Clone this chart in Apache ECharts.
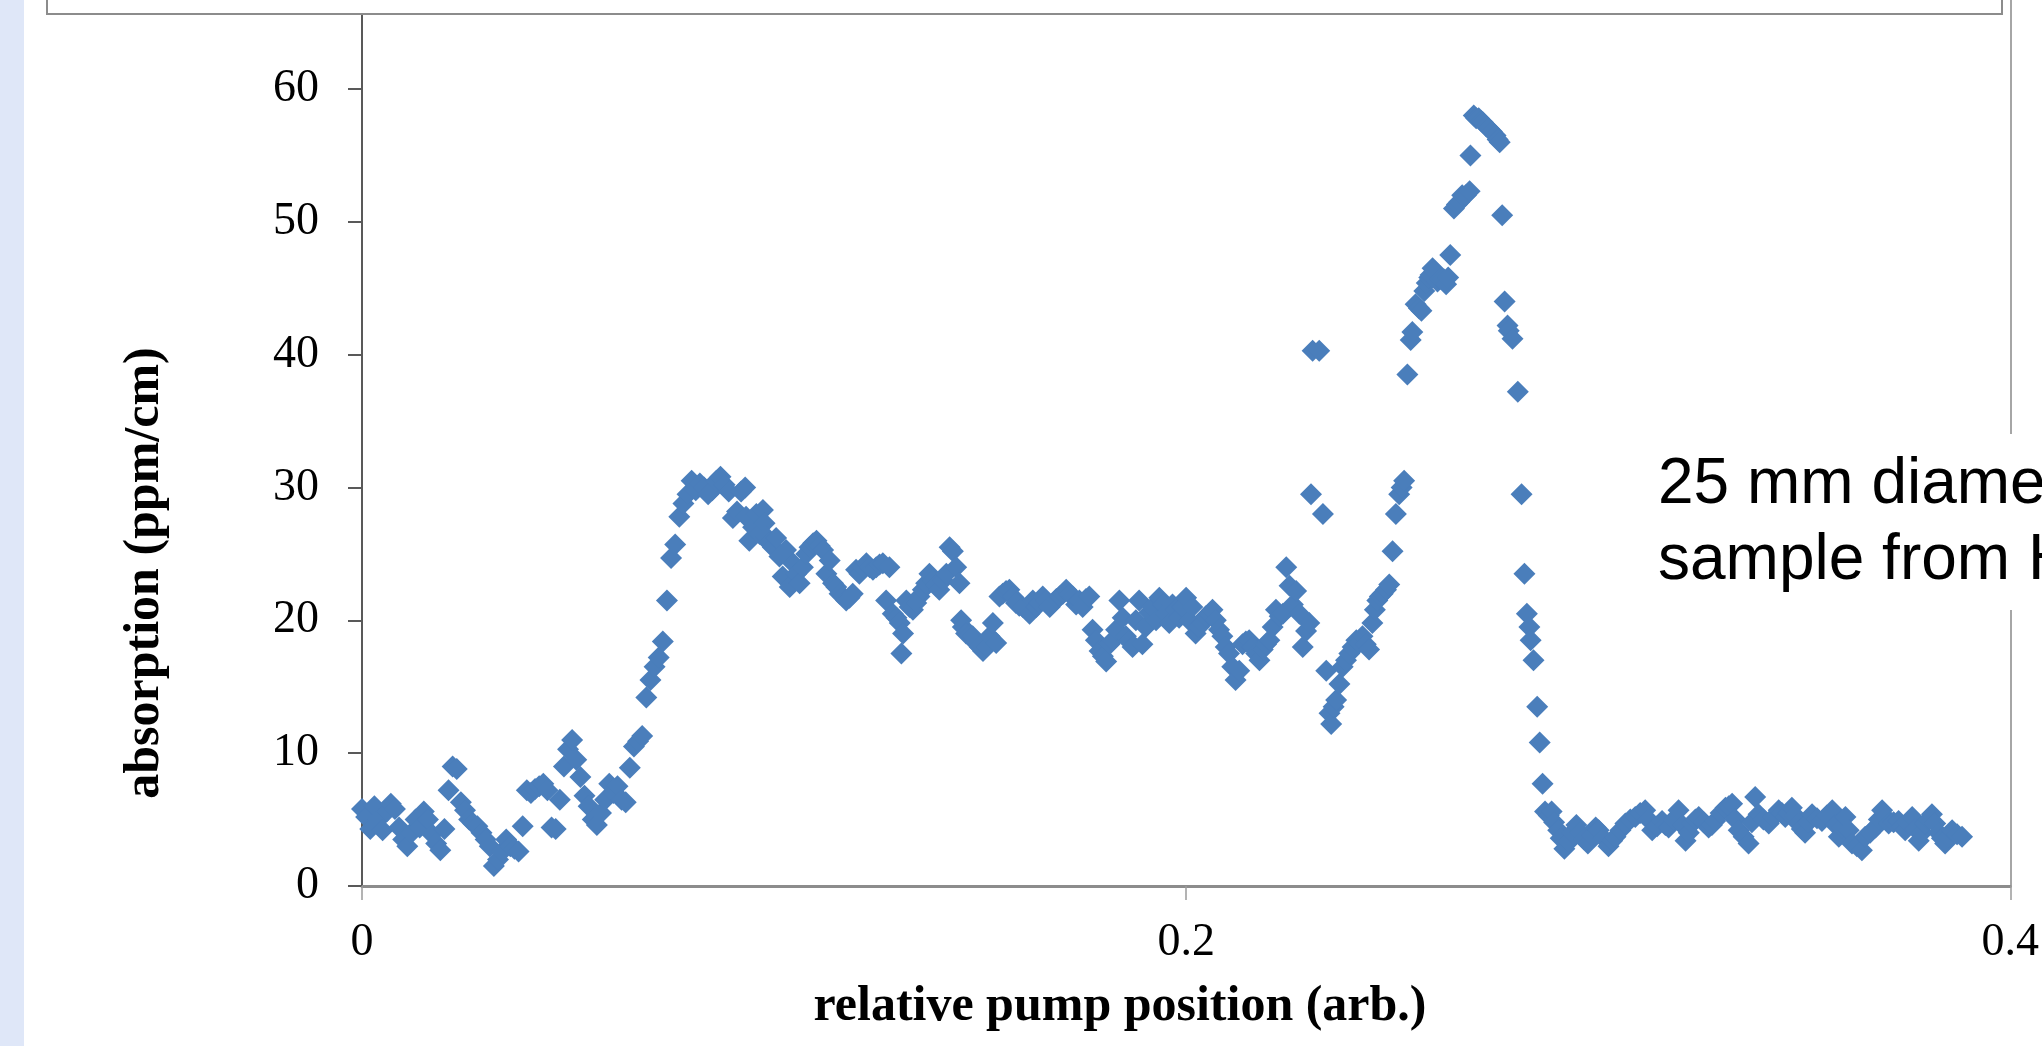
<!DOCTYPE html>
<html><head><meta charset="utf-8">
<script src="https://cdn.jsdelivr.net/npm/echarts@6/dist/echarts.min.js"></script>
<style>html,body{margin:0;padding:0;background:#fff;overflow:hidden}#chart{width:2042px;height:1046px}</style>
</head><body><div id="chart"></div>
<script>
// x-axis ticks and y-axis range
const xTickLabels = ['0', '0.2', '0.4'];
const yTickLabels = ['0', '10', '20', '30', '40', '50', '60'];

// baseline before the rise (0 - 0.073)
const posStart = [
  0.000,0.001,0.002,0.003,0.004,0.005,0.006,0.007,0.008,0.009,
  0.010,0.011,0.012,0.013,0.014,0.015,0.016,0.017,0.018,0.019,
  0.020,0.021,0.022,0.023,0.024,0.025,0.026,0.027,0.028,0.029,
  0.030,0.031,0.032,0.033,0.034,0.035,0.036,0.037,0.038,0.039,
  0.040,0.041,0.042,0.043,0.044,0.045,0.046,0.047,0.048,0.049,
  0.050,0.051,0.052,0.053,0.054,0.055,0.056,0.057,0.058,0.059,
  0.060,0.061,0.062,0.063,0.064,0.065,0.066,0.067,0.068,0.069,
  0.070,0.071,0.072,0.073];
const absStart = [
  5.8,5.2,4.3,6.0,5.0,4.2,5.6,6.2,5.8,4.4,
  3.5,3.0,4.0,5.0,4.4,5.6,5.0,3.9,3.2,2.7,
  4.3,7.2,9.0,8.8,6.3,5.7,5.0,4.7,4.5,4.0,
  3.5,3.0,1.5,2.0,2.6,3.5,3.0,2.8,2.6,4.5,
  7.2,7.0,7.3,7.5,7.7,7.2,4.4,4.3,6.5,9.0,
  10.3,11.0,9.5,8.2,6.8,6.0,5.0,4.6,5.5,6.5,
  7.7,7.0,7.5,6.5,6.3,8.9,10.5,10.9,11.3,14.2,
  15.5,16.5,17.2,18.4];

// first plateau top (0.074 - 0.093)
const posPlateau = [
  0.074,0.075,0.076,0.077,0.078,0.079,0.080,0.081,0.082,0.083,
  0.084,0.085,0.086,0.087,0.088,0.089,0.090,0.091,0.092,0.093];
const absPlateau = [
  21.5,24.7,25.7,27.8,28.8,29.5,30.5,29.8,30.3,30.0,
  29.5,29.8,30.5,30.8,30.2,29.7,27.7,28.2,29.7,30.0];

// slow decay (0.093 - 0.187)
const posDecay = [
  0.0932,0.0940,0.0949,0.0957,0.0965,0.0973,0.0977,0.0981,0.0989,0.0997,
  0.1005,0.1013,0.1021,0.1029,0.1038,0.1046,0.1054,0.1062,0.1070,0.1078,
  0.1086,0.1095,0.1103,0.1111,0.1119,0.1127,0.1135,0.1143,0.1151,0.1159,
  0.1167,0.1175,0.1183,0.1191,0.1199,0.1207,0.1216,0.1224,0.1232,0.1240,
  0.1248,0.1256,0.1264,0.1272,0.1280,0.1288,0.1297,0.1305,0.1309,0.1313,
  0.1321,0.1329,0.1337,0.1345,0.1353,0.1361,0.1369,0.1377,0.1385,0.1393,
  0.1401,0.1410,0.1418,0.1426,0.1434,0.1442,0.1450,0.1454,0.1458,0.1466,
  0.1474,0.1482,0.1490,0.1499,0.1507,0.1515,0.1523,0.1531,0.1539,0.1547,
  0.1555,0.1563,0.1571,0.1579,0.1587,0.1595,0.1604,0.1612,0.1620,0.1628,
  0.1636,0.1644,0.1652,0.1660,0.1669,0.1677,0.1685,0.1693,0.1701,0.1709,
  0.1717,0.1725,0.1733,0.1741,0.1749,0.1757,0.1765,0.1773,0.1781,0.1790,
  0.1798,0.1806,0.1814,0.1822,0.1830,0.1838,0.1846,0.1854,0.1862,0.1870];
const absDecay = [
  27.8,26.0,27.0,28.0,26.5,28.3,27.3,26.3,25.8,25.5,
  26.2,24.8,23.3,25.3,22.5,24.3,23.5,22.8,24.0,25.0,
  25.5,25.8,26.0,25.6,25.3,23.5,24.5,22.8,22.5,22.0,
  21.8,21.5,21.7,22.0,23.8,23.5,24.0,24.3,24.0,23.8,
  24.0,24.2,24.3,21.5,24.0,20.5,20.2,19.8,17.5,19.0,
  21.5,21.0,20.8,21.3,21.8,22.3,22.8,23.5,23.0,22.6,
  22.3,23.0,23.5,25.5,25.2,24.0,22.8,20.0,19.5,19.0,
  18.9,18.8,18.3,18.0,17.7,18.0,18.8,19.8,18.3,21.8,
  22.0,22.2,22.3,21.8,21.3,21.1,21.0,20.8,20.5,21.5,
  21.0,21.3,21.8,21.5,21.0,21.3,21.6,21.8,22.0,22.3,
  22.0,21.8,21.2,21.5,21.0,21.6,21.8,19.3,18.5,17.7,
  17.3,16.9,18.2,18.5,19.3,21.5,20.2,18.8,18.4,18.0];

// dip and rise (0.187 - 0.257)
const posDip = [
  0.1878,0.1886,0.1894,0.1902,0.1911,0.1919,0.1927,0.1935,0.1943,0.1951,
  0.1959,0.1967,0.1975,0.1983,0.1991,0.2000,0.2007,0.2015,0.2023,0.2031,
  0.2040,0.2048,0.2056,0.2064,0.2072,0.2080,0.2088,0.2096,0.2104,0.2112,
  0.2120,0.2129,0.2137,0.2145,0.2153,0.2161,0.2170,0.2178,0.2186,0.2194,
  0.2202,0.2210,0.2218,0.2227,0.2235,0.2243,0.2251,0.2259,0.2267,0.2275,
  0.2283,0.2291,0.2299,0.2303,0.2307,0.2323,0.2332,0.2340,0.2348,0.2352,
  0.2358,0.2364,0.2372,0.2380,0.2388,0.2396,0.2404,0.2413,0.2420,0.2428,
  0.2436,0.2444,0.2452,0.2458,0.2464,0.2470,0.2477,0.2485,0.2493,0.2501,
  0.2509,0.2517,0.2523,0.2529,0.2537,0.2545,0.2549,0.2557,0.2565];
const absDip = [
  20.0,21.5,18.2,19.5,20.6,21.0,20.0,21.7,21.2,20.5,
  19.8,21.2,20.8,20.2,21.0,21.7,20.0,21.0,19.0,19.5,
  19.8,20.3,20.5,20.8,20.0,19.3,18.8,18.0,17.5,16.5,
  15.5,16.2,18.2,18.4,18.5,18.0,17.5,17.0,17.8,18.2,
  18.5,19.5,20.8,20.3,20.5,24.0,22.6,21.2,22.2,20.5,
  18.0,19.2,19.8,29.5,40.3,40.3,28.0,16.2,13.0,12.2,
  13.5,14.0,15.2,16.5,17.0,17.5,18.0,18.5,18.3,18.8,
  18.2,17.8,19.8,20.8,21.5,21.8,22.0,22.3,22.7,25.2,
  28.0,29.5,30.0,30.5,38.5,41.1,41.7,43.8,43.5];

// peak and fall (0.257 - 0.300)
const posPeak = [
  0.2571,0.2578,0.2584,0.2590,0.2593,0.2598,0.2603,0.2610,0.2616,0.2625,
  0.2631,0.2636,0.2641,0.2650,0.2657,0.2663,0.2670,0.2679,0.2688,0.2690,
  0.2698,0.2704,0.2710,0.2716,0.2720,0.2728,0.2735,0.2742,0.2751,0.2756,
  0.2761,0.2767,0.2773,0.2780,0.2783,0.2792,0.2805,0.2814,0.2821,0.2827,
  0.2833,0.2836,0.2843,0.2852,0.2858,0.2865,0.2871,0.2880,0.2887,0.2893,
  0.2903,0.2909,0.2918,0.2928,0.2937,0.2947,0.2956,0.2966,0.2975,0.2985,
  0.2994];
const absPeak = [
  43.3,44.8,45.4,45.8,46.0,46.5,46.3,45.5,45.7,45.7,
  45.3,45.8,47.5,51.0,51.3,51.5,52.0,52.0,52.3,55.0,
  58.0,57.8,57.8,57.6,57.5,57.2,57.0,56.8,56.5,56.2,
  56.0,50.5,44.0,42.2,41.8,41.2,37.2,29.5,23.5,20.5,
  19.5,18.5,17.0,13.5,10.8,7.7,5.6,5.3,5.6,4.8,
  4.2,3.6,2.8,3.3,4.0,4.6,4.0,3.5,3.2,3.8,
  4.4];

// tail (0.300 - 0.389)
const posTail = [
  0.3001,0.3013,0.3025,0.3034,0.3042,0.3054,0.3066,0.3078,0.3090,0.3102,
  0.3114,0.3122,0.3131,0.3143,0.3155,0.3163,0.3171,0.3183,0.3195,0.3204,
  0.3212,0.3220,0.3228,0.3236,0.3244,0.3256,0.3268,0.3276,0.3284,0.3297,
  0.3309,0.3317,0.3325,0.3333,0.3341,0.3353,0.3365,0.3373,0.3381,0.3389,
  0.3401,0.3414,0.3426,0.3438,0.3446,0.3454,0.3462,0.3470,0.3478,0.3486,
  0.3494,0.3502,0.3510,0.3519,0.3531,0.3543,0.3555,0.3568,0.3576,0.3584,
  0.3592,0.3600,0.3608,0.3616,0.3628,0.3640,0.3648,0.3660,0.3673,0.3681,
  0.3689,0.3697,0.3705,0.3717,0.3729,0.3737,0.3745,0.3753,0.3762,0.3770,
  0.3778,0.3786,0.3794,0.3802,0.3810,0.3818,0.3826,0.3834,0.3842,0.3850,
  0.3859,0.3871,0.3883];
const absTail = [
  4.2,3.6,3.0,3.4,3.7,4.2,4.7,5.0,5.2,5.5,
  5.7,5.0,4.2,4.5,4.9,4.6,4.4,5.0,5.7,4.6,
  3.4,4.0,4.7,5.0,5.2,4.8,4.4,4.6,4.9,5.5,
  5.9,6.0,6.2,5.0,4.2,3.7,3.2,4.8,6.7,5.4,
  5.0,4.7,5.2,5.7,5.5,5.2,5.5,5.9,5.3,4.7,
  4.3,4.0,4.8,5.4,5.1,4.9,5.3,5.7,4.6,3.7,
  4.4,5.2,4.2,3.2,3.0,2.7,3.7,4.0,4.4,5.0,
  5.7,5.2,4.7,4.8,4.9,4.5,4.2,4.7,5.2,4.3,
  3.4,4.0,4.7,5.0,5.4,4.7,4.0,3.6,3.2,3.7,
  4.2,3.9,3.7];

const pumpPos = [].concat(posStart, posPlateau, posDecay, posDip, posPeak, posTail);
const absorption = [].concat(absStart, absPlateau, absDecay, absDip, absPeak, absTail);
if (pumpPos.length !== absorption.length) console.error('length mismatch', pumpPos.length, absorption.length);
const points = pumpPos.map((x, i) => [x, absorption[i]]);

const serif = '"Liberation Serif", "Times New Roman", serif';
const titleFont = 'bold 50px "Liberation Serif", "Times New Roman", serif';
const noteFont = '64px "Liberation Sans", Arial, sans-serif';

const chart = echarts.init(document.getElementById('chart'), null, {renderer: 'canvas'});
chart.setOption({
  animation: false,
  backgroundColor: '#ffffff',
  grid: {left: 362, right: 30, top: 0, bottom: 160, containLabel: false},
  xAxis: {
    type: 'value', min: 0, max: 0.4, interval: 0.2,
    axisLine: {show: true, onZero: false, lineStyle: {color: '#8c8c8c', width: 3}},
    axisTick: {show: true, length: 14, lineStyle: {color: '#9a9a9a', width: 1.5}},
    axisLabel: {
      margin: 34, color: '#000', fontFamily: serif, fontSize: 46,
      formatter: v => xTickLabels[Math.round(v / 0.2)] || ''
    },
    splitLine: {show: false}
  },
  yAxis: [{
    type: 'value', min: 0, max: 66.7, interval: 10,
    axisLine: {show: true, lineStyle: {color: '#595959', width: 2}},
    axisTick: {show: true, length: 14, lineStyle: {color: '#595959', width: 2}},
    axisLabel: {
      margin: 43, color: '#000', fontFamily: serif, fontSize: 46,
      formatter: v => (Math.abs(v / 10 - Math.round(v / 10)) < 1e-6 ? (yTickLabels[Math.round(v / 10)] || '') : '')
    },
    splitLine: {show: false}
  }, {
    type: 'value', min: 0, max: 66.7, interval: 10, position: 'right',
    axisLine: {show: true, lineStyle: {color: '#a6a6a6', width: 2}},
    axisTick: {show: false}, axisLabel: {show: false}, splitLine: {show: false}
  }],
  series: [{
    type: 'scatter',
    yAxisIndex: 0,
    data: points,
    symbol: 'diamond',
    symbolSize: 22,
    itemStyle: {color: '#4a7ebb', opacity: 1},
    emphasis: {disabled: true}
  }],
  graphic: [
    {type: 'rect', z: 0, shape: {x: 0, y: 0, width: 24, height: 1046}, style: {fill: '#dfe7f8'}},
    {type: 'rect', z: 100, shape: {x: 47, y: -10, width: 1955, height: 24}, style: {fill: '#ffffff', stroke: '#8c8c8c', lineWidth: 2}},
    {type: 'rect', z: 100, shape: {x: 1640, y: 434, width: 410, height: 176}, style: {fill: '#ffffff'}},
    {type: 'text', z: 101, x: 1658, y: 485, style: {text: '25 mm diameter', font: noteFont, fill: '#000', textAlign: 'left', textVerticalAlign: 'middle'}},
    {type: 'text', z: 101, x: 1658, y: 561, style: {text: 'sample from Heraeus', font: noteFont, fill: '#000', textAlign: 'left', textVerticalAlign: 'middle'}},
    {type: 'text', z: 101, x: 1120, y: 1007, style: {text: 'relative pump position (arb.)', font: titleFont, fill: '#000', textAlign: 'center', textVerticalAlign: 'middle'}},
    {type: 'text', z: 101, x: 145, y: 573, rotation: Math.PI / 2, style: {text: 'absorption (ppm/cm)', font: titleFont, fill: '#000', textAlign: 'center', textVerticalAlign: 'middle'}}
  ]
});
</script>
</body></html>
